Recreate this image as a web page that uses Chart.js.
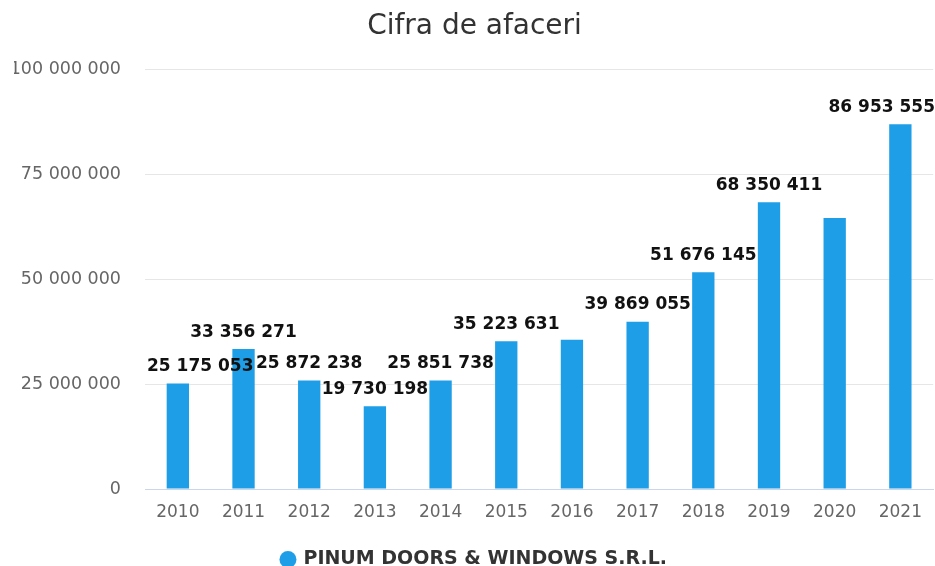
<!DOCTYPE html>
<html>
<head>
<meta charset="utf-8">
<script src="https://cdn.jsdelivr.net/npm/chart.js@4/dist/chart.umd.min.js"></script>
<style>
  html, body { margin: 0; padding: 0; background: #fff; }
  #wrap { width: 935px; height: 566px; }
</style>
</head>
<body>
<div id="wrap"><canvas id="myChart"></canvas></div>
<script>
var years = ['2010', '2011', '2012', '2013', '2014', '2015', '2016', '2017', '2018', '2019', '2020', '2021']
var cifra_afaceri = [25175053, 33356271, 25872238, 19730198, 25851738, 35223631,
                     35600000, 39869055, 51676145, 68350411, 64600000, 86953555]
// labels that the original hid because they overlapped their neighbours
var show_label = [true, true, true, true, true, true, false, true, true, true, false, true]
var y_ticks = [0, 25000000, 50000000, 75000000, 100000000]

function fmt(v){
    return String(Math.round(v)).replace(/\B(?=(\d{3})+(?!\d))/g, ' ')
}

var barLabels = {
    id: 'barLabels',
    afterDatasetsDraw: function(chart){
        var ctx = chart.ctx
        var area = chart.chartArea
        var meta = chart.getDatasetMeta(0)
        ctx.save()
        ctx.font = 'bold 17px "DejaVu Sans"'
        ctx.fillStyle = '#111'
        ctx.textBaseline = 'middle'
        ctx.textAlign = 'left'
        meta.data.forEach(function(bar, i){
            if (!show_label[i]) return
            var txt = fmt(cifra_afaceri[i])
            var w = ctx.measureText(txt).width
            var x = bar.x - w / 2
            if (x < area.left) x = area.left + 2
            if (x + w > chart.width) x = chart.width - w
            ctx.fillText(txt, x, bar.y - 17)
        })
        ctx.restore()
    }
}

var ctx = document.getElementById('myChart').getContext('2d');
var myChart = new Chart(ctx, {
    type: 'bar',
    data: {
        labels: years,
        datasets: [{
            label: 'PINUM DOORS & WINDOWS S.R.L.',
            data: cifra_afaceri,
            backgroundColor: '#1f9ee8',
            borderWidth: 0,
            barPercentage: 0.34,
            categoryPercentage: 1
        }]
    },
    options: {
        responsive: true,
        maintainAspectRatio: false,
        animation: false,
        layout: { padding: { left: 14, right: 0, top: 0, bottom: -13 } },
        plugins: {
            title: {
                display: true,
                text: 'Cifra de afaceri',
                color: '#333',
                font: { family: 'DejaVu Sans', size: 28, weight: 'normal' },
                padding: { top: 10, bottom: 26 }
            },
            legend: {
                display: true,
                position: 'bottom',
                labels: {
                    usePointStyle: true,
                    pointStyle: 'circle',
                    boxWidth: 12,
                    boxHeight: 12,
                    padding: 1,
                    color: '#333',
                    font: { family: 'DejaVu Sans', size: 19, weight: 'bold' }
                }
            },
            tooltip: { enabled: false }
        },
        scales: {
            x: {
                grid: { display: false, drawTicks: false },
                border: { display: true, color: '#ccd6eb', width: 1 },
                ticks: {
                    color: '#666',
                    padding: 13,
                    maxRotation: 0,
                    font: { family: 'DejaVu Sans', size: 17 }
                },
                afterFit: function(axis){ axis.height = 60 }
            },
            y: {
                min: 0,
                max: 100000000,
                afterBuildTicks: function(axis){
                    axis.ticks = y_ticks.map(function(v){ return { value: v } })
                },
                grid: { color: '#e6e6e6', drawTicks: false },
                border: { display: false },
                ticks: {
                    color: '#666',
                    padding: 24,
                    font: { family: 'DejaVu Sans', size: 17.5 },
                    callback: function(v){ return fmt(v) }
                },
                afterFit: function(axis){ axis.width = 131 }
            }
        }
    },
    plugins: [barLabels]
});
</script>
</body>
</html>
